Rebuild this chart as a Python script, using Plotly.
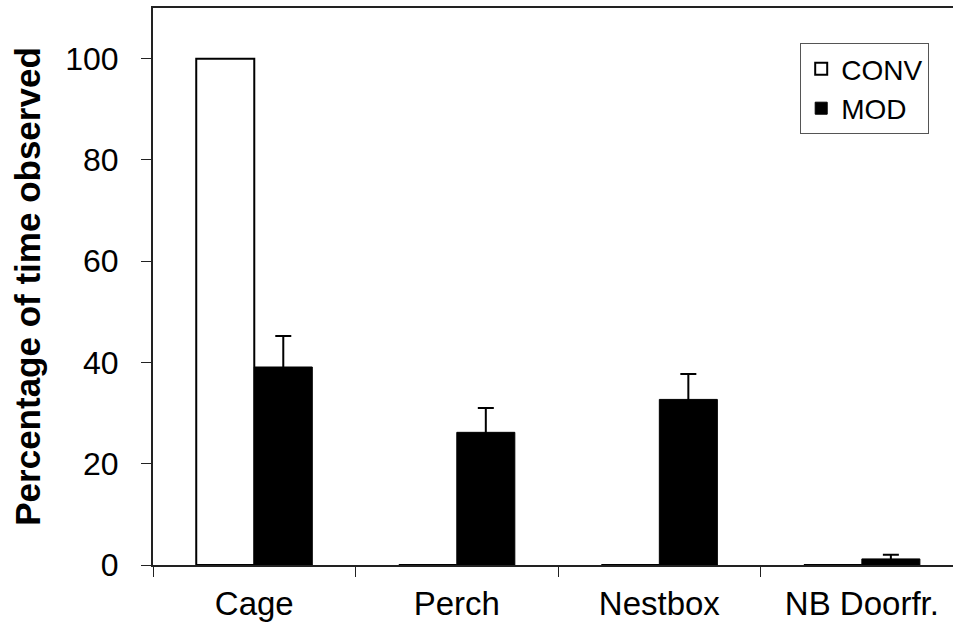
import plotly.graph_objects as go

categories = ["Cage", "Perch", "Nestbox", "NB Doorfr."]
conv_values = [100, 0, 0, 0]
mod_values = [39.1, 26.2, 32.7, 1.2]
mod_errors = [6.1, 4.8, 5.0, 0.8]
y_ticks = [0, 20, 40, 60, 80, 100]

FONT = "Liberation Sans, Arial, sans-serif"

fig = go.Figure()
fig.add_trace(go.Bar(
    name="CONV", x=categories, y=conv_values,
    marker=dict(color="white", line=dict(color="black", width=2)),
))
fig.add_trace(go.Bar(
    name="MOD", x=categories, y=mod_values,
    marker=dict(color="black", line=dict(color="black", width=1)),
    error_y=dict(type="data", array=mod_errors, visible=True,
                 color="black", thickness=2, width=8),
))

fig.update_layout(
    width=953, height=640,
    margin=dict(l=153, r=0, t=8, b=75),
    paper_bgcolor="white", plot_bgcolor="white",
    barmode="group", bargap=0.427, bargroupgap=0,
    font=dict(family=FONT, color="black"),
    showlegend=True,
    legend=dict(
        x=0.809, y=0.937, xanchor="left", yanchor="top",
        bgcolor="white", bordercolor="#555", borderwidth=1,
        font=dict(size=28, family=FONT, color="black"),
        traceorder="normal", itemwidth=30,
    ),
    xaxis=dict(
        range=[-0.5, 3.45],
        showline=True, linecolor="#222", linewidth=2, mirror=True,
        ticks="outside", ticklen=10, tickcolor="#222", tickwidth=1,
        tickson="boundaries",
        tickfont=dict(size=33, family=FONT, color="black"),
        ticklabelstandoff=8,
        showgrid=False, zeroline=False,
    ),
    yaxis=dict(
        range=[0, 110],
        tickvals=y_ticks,
        showline=True, linecolor="#222", linewidth=2,
        ticks="outside", ticklen=10, tickcolor="#222", tickwidth=1,
        tickfont=dict(size=32, family=FONT, color="black"),
        ticklabelstandoff=16,
        showgrid=False, zeroline=False,
        title=dict(text="<b>Percentage of time observed</b>",
                   font=dict(size=35, family=FONT, color="black"),
                   standoff=14),
    ),
)

fig.write_html("out.html")
